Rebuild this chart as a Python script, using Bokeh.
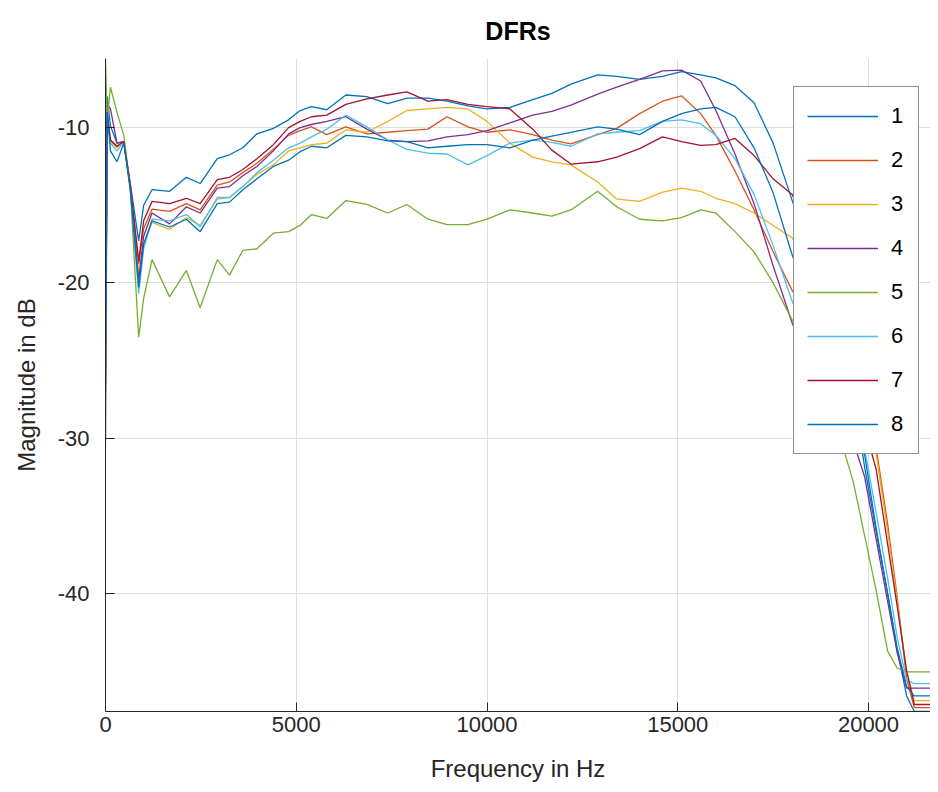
from bokeh.plotting import figure
from bokeh.models import Range1d, Legend, LegendItem, FixedTicker
from bokeh.embed import file_html
from bokeh.resources import INLINE

freq_hz = [0, 45, 130, 300, 480, 650, 870, 1000,
           1220, 1680, 2120, 2480, 2930, 3250, 3600, 3970,
           4400, 4800, 5100, 5400, 5800, 6300, 6850, 7400,
           7900, 8450, 8950, 9500, 10000, 10600, 11200, 11700,
           12200, 12900, 13400, 14000, 14600, 15100, 15600, 16000,
           16500, 17000, 17500, 18000, 18600, 19200, 19600, 19900,
           20200, 20500, 20750, 21000, 21200, 21800]

db_1 = [-26.5, -8.0, -9.9, -11.0, -10.9, -13.6, -17.3, -15.0,
        -14.0, -14.1, -13.2, -13.6, -12.0, -11.75, -11.3, -10.4,
        -10.05, -9.5, -8.9, -8.65, -8.85, -7.9, -8.0, -8.45,
        -8.1, -8.1, -8.3, -8.6, -8.8, -8.7, -8.2, -7.8,
        -7.2, -6.6, -6.7, -6.9, -6.7, -6.4, -6.6, -6.8,
        -7.3, -8.4, -11.0, -14.7, -19.0, -23.5, -27.0, -31.9,
        -36.0, -40.0, -43.6, -46.6, -47.6, -47.6]

db_2 = [-30.0, -9.5, -10.8, -11.2, -10.9, -13.8, -18.8, -16.5,
        -15.25, -15.4, -14.9, -15.3, -13.7, -13.5, -12.9, -12.3,
        -11.4, -10.5, -10.2, -9.95, -10.45, -9.95, -10.4, -10.3,
        -10.2, -10.1, -9.3, -9.95, -10.3, -10.15, -10.45, -10.8,
        -11.05, -10.45, -10.05, -9.1, -8.3, -7.95, -9.1, -10.5,
        -12.8, -15.3, -18.0, -20.5, -22.5, -24.5, -26.5, -28.5,
        -30.6, -35.5, -40.2, -45.5, -47.35, -47.35]

db_3 = [-25.0, -9.5, -10.9, -11.3, -10.9, -13.8, -19.5, -17.5,
        -16.1, -16.55, -15.8, -16.3, -14.6, -14.5, -13.8, -13.0,
        -12.4, -11.5, -11.3, -11.1, -11.0, -10.15, -10.3, -9.6,
        -8.9, -8.8, -8.7, -8.8, -9.6, -11.0, -11.9, -12.2,
        -12.4, -13.5, -14.6, -14.75, -14.15, -13.9, -14.1, -14.55,
        -14.9, -15.5, -16.3, -17.1, -19.5, -22.5, -25.5, -28.5,
        -31.0, -36.0, -40.5, -45.0, -46.9, -46.9]

db_4 = [-24.0, -8.5, -8.8, -11.0, -10.9, -13.8, -19.8, -17.0,
        -15.5, -16.2, -15.1, -15.5, -13.9, -13.8, -13.1, -12.5,
        -11.5, -10.4, -10.0, -9.8, -9.6, -9.3, -10.1, -10.8,
        -10.9, -10.85, -10.6, -10.45, -10.2, -9.7, -9.2, -8.95,
        -8.55, -7.85, -7.4, -6.9, -6.35, -6.3, -7.0, -8.9,
        -11.7, -14.9, -18.9, -22.6, -26.0, -28.5, -30.2, -32.5,
        -36.5, -40.5, -43.8, -46.1, -46.1, -46.1]

db_5 = [-5.6, -9.5, -7.4, -9.0, -10.5, -13.9, -23.5, -21.0,
        -18.5, -20.9, -19.2, -21.6, -18.5, -19.5, -17.9, -17.8,
        -16.8, -16.7, -16.3, -15.6, -15.85, -14.7, -14.95, -15.5,
        -14.95, -15.9, -16.25, -16.25, -15.9, -15.3, -15.5, -15.7,
        -15.3, -14.1, -15.1, -15.9, -16.0, -15.8, -15.3, -15.5,
        -16.7, -18.0, -20.0, -22.4, -25.5, -29.5, -32.8, -36.3,
        -39.8, -43.7, -44.8, -45.05, -45.05, -45.05]

db_6 = [-30.6, -9.0, -11.0, -11.5, -10.9, -14.0, -20.7, -17.8,
        -15.9, -16.0, -15.6, -16.4, -14.5, -14.5, -13.8, -12.9,
        -12.1, -11.3, -11.0, -10.6, -10.1, -9.2, -9.95, -10.8,
        -11.4, -11.65, -11.7, -12.4, -11.8, -11.0, -10.8, -10.95,
        -11.2, -10.4, -10.3, -10.2, -9.6, -9.5, -9.75, -10.5,
        -12.0, -14.3, -17.6, -21.2, -24.5, -27.5, -29.3, -30.7,
        -34.8, -39.0, -42.8, -45.6, -45.8, -45.8]

db_7 = [-27.0, -9.0, -10.8, -11.2, -10.9, -13.7, -18.6, -16.0,
        -14.75, -14.9, -14.55, -14.9, -13.35, -13.2, -12.7, -12.0,
        -11.1, -10.0, -9.6, -9.3, -9.2, -8.5, -8.15, -7.9,
        -7.7, -8.3, -8.2, -8.5, -8.65, -8.8, -10.1, -11.45,
        -12.35, -12.2, -11.9, -11.35, -10.6, -10.9, -11.15, -11.1,
        -10.7, -11.8, -13.3, -14.3, -17.5, -22.0, -26.0, -29.3,
        -32.0, -36.8, -40.8, -45.0, -47.15, -47.15]

db_8 = [-26.5, -9.0, -11.5, -12.2, -11.0, -14.0, -20.3, -17.5,
        -16.0, -16.4, -15.9, -16.7, -14.9, -14.8, -14.0, -13.3,
        -12.5, -12.1, -11.55, -11.2, -11.3, -10.5, -10.6, -10.85,
        -10.9, -11.3, -11.2, -11.1, -11.1, -11.3, -10.8, -10.55,
        -10.3, -9.95, -10.1, -10.45, -9.6, -9.1, -8.8, -8.7,
        -9.3, -11.3, -14.2, -18.2, -22.0, -25.5, -28.3, -31.1,
        -35.8, -40.0, -43.5, -46.0, -46.6, -46.6]

series_names = ["1", "2", "3", "4", "5", "6", "7", "8"]
series_values = [db_1, db_2, db_3, db_4, db_5, db_6, db_7, db_8]
series_colors = ["#0072BD", "#D95319", "#EDB120", "#7E2F8E",
                 "#77AC30", "#4DBEEE", "#A2142F", "#0072BD"]

x_ticks = [0, 5000, 10000, 15000, 20000]
y_ticks = [-40, -30, -20, -10]
y_tick_labels = ["-40", "-30", "-20", "-10"]

FONT = "Liberation Sans"
AXC = "#262626"

p = figure(width=930, height=784, output_backend="svg", toolbar_location=None,
           x_range=Range1d(0, 21625), y_range=Range1d(-47.6, -5.55),
           title="DFRs", x_axis_label="Frequency in Hz",
           y_axis_label="Magnitude in dB")
p.min_border_left = 105
p.min_border_right = 0
p.min_border_top = 57
p.min_border_bottom = 73
p.outline_line_color = None
p.background_fill_color = "white"
p.border_fill_color = "white"

p.title.text_font = FONT
p.title.text_font_size = "25px"
p.title.text_font_style = "bold"
p.title.text_color = "black"
p.title.align = "center"
p.title.offset = 8
p.title.standoff = 28

for ax in (p.xaxis[0], p.yaxis[0]):
    ax.axis_line_color = AXC
    ax.major_tick_line_color = AXC
    ax.major_tick_in = 9
    ax.major_tick_out = 0
    ax.minor_tick_line_color = None
    ax.major_label_text_font = FONT
    ax.major_label_text_font_size = "22px"
    ax.major_label_text_color = AXC
    ax.axis_label_text_font = FONT
    ax.axis_label_text_font_size = "24px"
    ax.axis_label_text_font_style = "normal"
    ax.axis_label_text_color = AXC

p.xaxis[0].ticker = FixedTicker(ticks=x_ticks)
p.yaxis[0].ticker = FixedTicker(ticks=y_ticks)
p.yaxis[0].major_label_overrides = dict(zip(y_ticks, y_tick_labels))
p.xaxis[0].major_label_standoff = 5
p.xaxis[0].axis_label_standoff = 20
p.yaxis[0].major_label_standoff = 16
p.yaxis[0].axis_label_standoff = 15

p.xgrid[0].ticker = FixedTicker(ticks=x_ticks)
p.ygrid[0].ticker = FixedTicker(ticks=y_ticks)
for g in (p.xgrid[0], p.ygrid[0]):
    g.grid_line_color = "#dedede"
    g.grid_line_width = 1

items = []
for name, vals, col in zip(series_names, series_values, series_colors):
    r = p.line(freq_hz, vals, line_color=col, line_width=1.3)
    items.append(LegendItem(label=name, renderers=[r]))

legend = Legend(items=items, location=(688, 257))
legend.padding = 13
legend.spacing = 12
legend.glyph_height = 32
legend.label_height = 32
legend.glyph_width = 71
legend.label_standoff = 13
legend.label_width = 14
legend.margin = 0
legend.border_line_color = AXC
legend.border_line_width = 1
legend.background_fill_color = "white"
legend.background_fill_alpha = 1.0
legend.label_text_font = FONT
legend.label_text_font_size = "22px"
legend.label_text_color = "black"
p.add_layout(legend)

open("out.html", "w").write(file_html(p, INLINE))
